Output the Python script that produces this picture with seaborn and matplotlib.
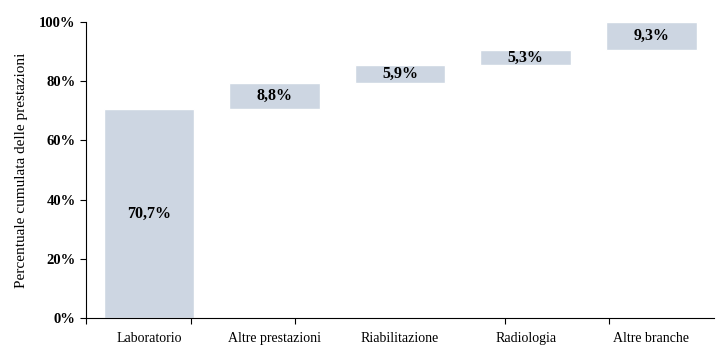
import numpy as np
import pandas as pd
import matplotlib
matplotlib.use('Agg')
import matplotlib.pyplot as plt
import seaborn as sns

categories = ['Laboratorio', 'Altre prestazioni', 'Riabilitazione', 'Radiologia', 'Altre branche']
shares = [70.7, 8.8, 5.9, 5.3, 9.3]
labels = ['70,7%', '8,8%', '5,9%', '5,3%', '9,3%']

df = pd.DataFrame({'cat': categories, 'share': shares})
df['base'] = np.concatenate([[0], np.cumsum(shares)[:-1]])

sns.set_style('white')
plt.rcParams['font.family'] = ['Liberation Serif', 'DejaVu Serif']

fig = plt.figure(figsize=(7.17, 3.45), dpi=100)
ax = fig.add_axes([0.12, 0.078, 0.876, 0.858])

sns.barplot(data=df, x='cat', y='share', bottom=df['base'].values,
            color='#cdd6e2', saturation=1, width=0.72, ax=ax)

for i, (b, s, lab) in enumerate(zip(df['base'], df['share'], labels)):
    ax.text(i, b + s / 2, lab, ha='center', va='center',
            fontsize=11.5, fontweight='bold', color='black')

ax.set_xlim(-0.5, 4.5)
ax.set_ylim(0, 100)
ax.set_yticks(range(0, 101, 20))
ax.set_yticklabels([f'{v}%' for v in range(0, 101, 20)], fontweight='bold', fontsize=10.5)
ax.set_xticks(range(5))
ax.set_xticklabels(categories, fontsize=10)
ax.set_xticks(np.linspace(-0.5, 4.5, 7)[:-1], minor=True)
ax.tick_params(axis='x', which='major', length=0, pad=10, colors='black')
ax.tick_params(axis='x', which='minor', length=4, width=0.8, color='black', direction='out', bottom=True)
ax.tick_params(axis='y', length=4, width=0.8, color='black', labelcolor='black', direction='out', left=True)
ax.set_xlabel('')
ax.set_ylabel('Percentuale cumulata delle prestazioni', fontsize=11, labelpad=8, color='black')

sns.despine(ax=ax)
for sp in ('left', 'bottom'):
    ax.spines[sp].set_color('black')
    ax.spines[sp].set_linewidth(0.8)

fig.savefig('out.png', dpi=100)
